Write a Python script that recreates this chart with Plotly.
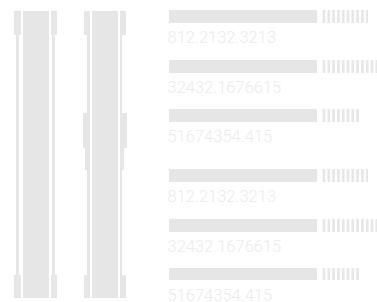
import plotly.graph_objects as go

# ---------------- data ----------------
# legend-like rows on the right
row_labels = ["812.2132.3213", "32432.1676615", "51674354.415",
              "812.2132.3213", "32432.1676615", "51674354.415"]
solid_values = [148, 148, 148, 148, 148, 148]
striped_values = [46, 55, 37, 46, 55, 37]

# two vertical columns on the left (top / bottom of each column)
col_top = [11.3, 11.3]
col_bottom = [298, 298]
# middle bulge on the second column (from, to, then narrower part to)
bulge_from = [None, 113]
bulge_to = [None, 148]
bulge_tail_to = [None, 170]

# ---------------- layout helpers (positions / styles) ----------------
W, H = 377, 302
GRAY = "#e6e6e6"
TEXT_GRAY = "#ebebeb"
row_pos = [16.3, 66.3, 115.3, 175.2, 225.2, 274.0]
bar_h = 12.6
solid_base = 168.5
stripe_base = 321.7

col_body = [(22.7, 49.3), (91.7, 118.3)]
col_lcap = [(14.0, 20.7), (84.3, 90.0)]
col_rcap = [(51.0, 57.3), (120.0, 125.7)]
col_lrail = [(16.0, 19.0), (87.3, 89.6)]
col_rrail = [(52.3, 55.3), (120.0, 122.4)]
col_lbulge = [None, (82.7, 89.6)]
col_rbulge = [None, (120.0, 126.7)]
col_ltail = [None, (85.0, 89.6)]
col_rtail = [None, (120.0, 124.0)]
cap_len = 23.4

fig = go.Figure()

rx, rw, rb, rl = [], [], [], []


def rect(xr, y0, y1):
    rx.append((xr[0] + xr[1]) / 2)
    rw.append(xr[1] - xr[0])
    rb.append(y0)
    rl.append(y1 - y0)


for i in range(2):
    t, b = col_top[i], col_bottom[i]
    rect(col_body[i], t, b)
    for cap in (col_lcap[i], col_rcap[i]):
        rect(cap, t, t + cap_len)
        rect(cap, b - cap_len, b)
    for rail in (col_lrail[i], col_rrail[i]):
        rect(rail, t, b)
    if bulge_from[i] is not None:
        for bl in (col_lbulge[i], col_rbulge[i]):
            rect(bl, bulge_from[i], bulge_to[i])
        for tl in (col_ltail[i], col_rtail[i]):
            rect(tl, bulge_to[i], bulge_tail_to[i])

fig.add_trace(go.Bar(
    x=rx, y=rl, base=rb, width=rw, orientation="v",
    marker=dict(color=GRAY, line=dict(width=0)),
    hoverinfo="skip",
))

# solid horizontal bars
fig.add_trace(go.Bar(
    y=row_pos, x=solid_values, base=[solid_base] * len(row_pos),
    width=[bar_h] * len(row_pos), orientation="h",
    marker=dict(color=GRAY, line=dict(width=0)),
    hoverinfo="skip",
))

# striped horizontal bars
fig.add_trace(go.Bar(
    y=row_pos, x=striped_values, base=[stripe_base] * len(row_pos),
    width=[bar_h] * len(row_pos), orientation="h",
    marker=dict(color=GRAY, line=dict(width=0),
                pattern=dict(shape="|", size=4.8, solidity=0.55,
                             fgcolor=GRAY, bgcolor="white",
                             fillmode="replace")),
    hoverinfo="skip",
))

# labels
fig.add_trace(go.Scatter(
    x=[solid_base - 1] * len(row_pos),
    y=[p + 22.4 for p in row_pos],
    mode="text", text=row_labels, textposition="middle right",
    textfont=dict(family="Roboto", size=16.5, color=TEXT_GRAY, weight=300),
    hoverinfo="skip",
))

fig.update_layout(
    width=W, height=H, margin=dict(l=0, r=0, t=0, b=0),
    paper_bgcolor="white", plot_bgcolor="white",
    showlegend=False, barmode="overlay", bargap=0,
    xaxis=dict(range=[0, W], visible=False, fixedrange=True),
    yaxis=dict(range=[H, 0], visible=False, fixedrange=True),
)

fig.write_html(
    "out.html",
    config={"displayModeBar": False},
    post_script="document.body.style.margin='0';document.body.style.overflow='hidden';",
)
